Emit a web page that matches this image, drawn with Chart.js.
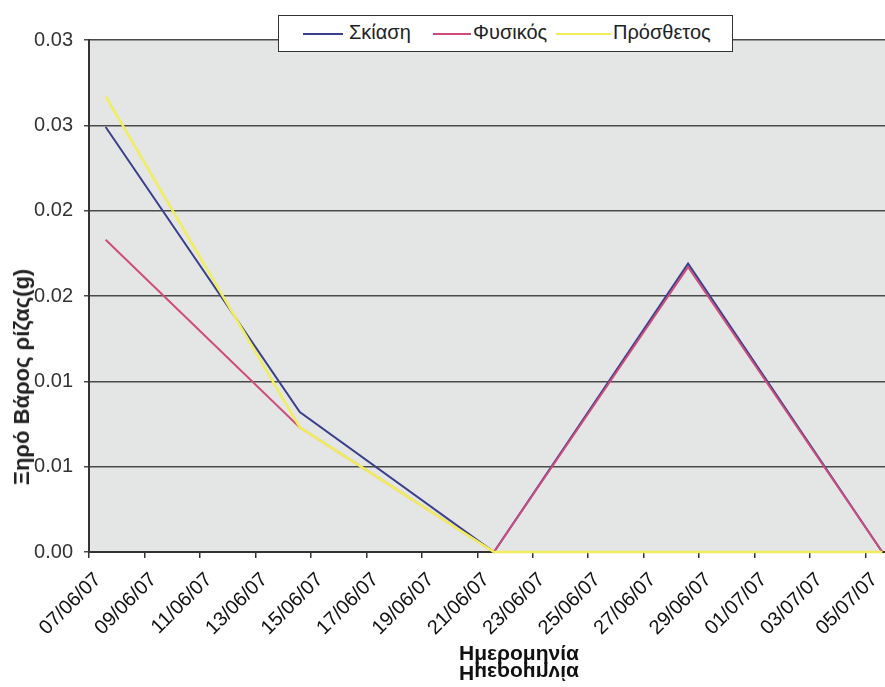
<html>
  <head>
    <title>Ξηρό Βάρος ρίζας</title>
    <style>
      body {
        margin: 0;
        background: white;
        overflow: hidden;
        font-family: Arial, "Liberation Sans", sans-serif;
      }
      #wrap {
        position: relative;
        width: 885px;
        height: 687px;
        overflow: hidden;
      }
      canvas {
        position: absolute;
        left: 0;
        top: 0;
      }
      .legend {
        position: absolute;
        left: 278px;
        top: 15px;
        width: 453px;
        height: 35px;
        background: white;
        border: 1px solid #333;
        font-size: 20px;
        color: #222;
      }
      .legend i {
        position: absolute;
        top: 17px;
        height: 2px;
      }
      .legend span {
        position: absolute;
        top: 5px;
        white-space: nowrap;
      }
      .ytitle {
        position: absolute;
        left: 22px;
        top: 377px;
        transform: translate(-50%, -50%) rotate(-90deg);
        font-weight: bold;
        font-size: 22px;
        color: #222;
        white-space: nowrap;
      }
      .xtitle {
        position: absolute;
        left: 459px;
        top: 641px;
        font-weight: bold;
        font-size: 21px;
        line-height: 24px;
        color: #111;
      }
      .xtitle.mirror {
        top: 661px;
        transform: scaleY(-1);
      }
    </style>
  </head>
  <body>
    <div id="wrap">
      <canvas id="myChart" width="885" height="687"></canvas>
      <div class="legend">
        <i style="left:24px;width:40px;background:#3a3f8c"></i><span style="left:70px">Σκίαση</span>
        <i style="left:154px;width:38px;background:#cf4c7c"></i><span style="left:194px">Φυσικός</span>
        <i style="left:277px;width:55px;background:#f2ee5a"></i><span style="left:334px">Πρόσθετος</span>
      </div>
      <div class="ytitle">Ξηρό Βάρος ρίζας(g)</div>
      <div class="xtitle">Ημερομηνία</div>
      <div class="xtitle mirror">Ημερομηνία</div>
    </div>
    <script src="https://cdn.jsdelivr.net/npm/chart.js@4.4.1/dist/chart.umd.min.js"></script>
    <script>
      // days counted from 07/06/07
      const dayOffsets = [0.6, 7.6, 14.6, 21.6, 28.6];
      const skiasi = [0.0249, 0.0082, 0, 0.0169, 0];
      const fysikos = [0.0183, 0.0073, 0, 0.0167, 0];
      const prosthetos = [0.0267, 0.0073, 0, 0, 0];

      const xTickLabels = ['07/06/07', '09/06/07', '11/06/07', '13/06/07', '15/06/07', '17/06/07', '19/06/07',
        '21/06/07', '23/06/07', '25/06/07', '27/06/07', '29/06/07', '01/07/07', '03/07/07', '05/07/07'];
      const yTickLabels = ['0.00', '0.01', '0.01', '0.02', '0.02', '0.03', '0.03'];

      function pts(vals) {
        return vals.map((v, i) => ({ x: dayOffsets[i], y: v }));
      }

      const plotBg = {
        id: 'plotBg',
        beforeDraw(chart) {
          const a = chart.chartArea;
          const ctx = chart.ctx;
          ctx.save();
          ctx.fillStyle = '#e3e6e5';
          ctx.fillRect(a.left, a.top, a.right - a.left, a.bottom - a.top);
          ctx.restore();
        }
      };

      const ctx = document.getElementById('myChart');
      new Chart(ctx, {
        type: 'line',
        data: {
          datasets: [
            { label: 'Σκίαση', data: pts(skiasi), borderColor: '#3a3f8c', borderWidth: 2, order: 3 },
            { label: 'Φυσικός', data: pts(fysikos), borderColor: '#cf4c7c', borderWidth: 2, order: 2 },
            { label: 'Πρόσθετος', data: pts(prosthetos), borderColor: '#f2ee5a', borderWidth: 2.5, order: 1 }
          ]
        },
        options: {
          responsive: false,
          animation: false,
          layout: { padding: { top: 40, left: 0, right: 0, bottom: 0 } },
          elements: {
            point: { radius: 0 },
            line: { tension: 0 }
          },
          datasets: { line: { clip: 4 } },
          plugins: {
            legend: { display: false },
            tooltip: { enabled: false }
          },
          scales: {
            x: {
              type: 'linear',
              min: 0,
              max: 28.7,
              afterBuildTicks(scale) {
                scale.ticks = xTickLabels.map((l, i) => ({ value: i * 2 }));
              },
              afterFit(scale) {
                scale.height = 135;
                scale.paddingRight = 0;
              },
              grid: {
                drawOnChartArea: false,
                drawTicks: true,
                tickLength: 6,
                color: '#333',
                lineWidth: 1.5
              },
              border: { display: true, color: '#333', width: 2 },
              ticks: {
                autoSkip: false,
                maxRotation: 45,
                minRotation: 45,
                labelOffset: 9,
                padding: 10,
                color: '#111',
                font: { family: 'Arial', size: 20 },
                callback: (v, i) => xTickLabels[i]
              }
            },
            y: {
              min: 0,
              max: 0.03,
              afterBuildTicks(scale) {
                scale.ticks = yTickLabels.map((l, i) => ({ value: i * 0.005 }));
              },
              afterFit(scale) { scale.width = 89; },
              grid: {
                color: '#4a4a4a',
                lineWidth: 1.5,
                tickLength: 5
              },
              border: { display: true, color: '#333', width: 2 },
              ticks: {
                padding: 11,
                color: '#333',
                font: { family: 'Arial', size: 20 },
                callback: (v, i) => yTickLabels[i]
              }
            }
          }
        },
        plugins: [plotBg]
      });
    </script>
  </body>
</html>
